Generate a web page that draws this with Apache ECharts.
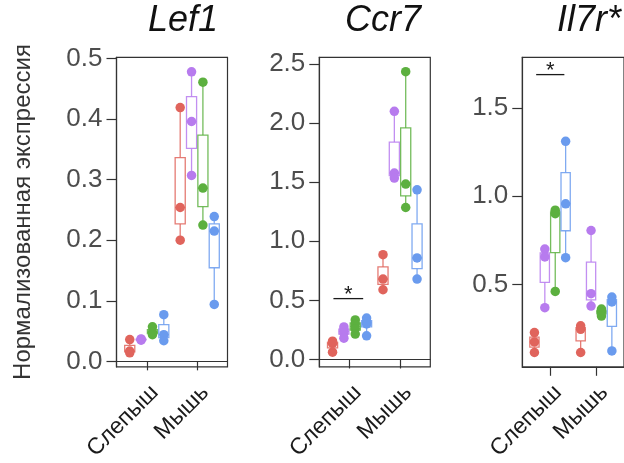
<!DOCTYPE html>
<html>
<head>
<meta charset="utf-8">
<script src="https://cdn.jsdelivr.net/npm/echarts@6/dist/echarts.min.js"></script>
<style>
html,body{margin:0;padding:0;background:#fff;}
#c{width:624px;height:463px;}
</style>
</head>
<body>
<div id="c"></div>
<script>
// ---------- data ----------
const geneNames = ['Lef1', 'Ccr7', 'Il7r*'];
const groupNames = ['Слепыш', 'Мышь'];
const yAxisTitle = 'Нормализованная экспрессия';

// values[group][subset] -> replicate values (subsets: red, purple, green, blue)
const lef1Values = [
  [[0.036, 0.017, 0.014], [0.037, 0.036, 0.035], [0.057, 0.048, 0.044], [0.077, 0.044, 0.034]],
  [[0.419, 0.254, 0.200], [0.478, 0.396, 0.307], [0.461, 0.286, 0.225], [0.239, 0.215, 0.094]]
];
const ccr7Values = [
  [[0.155, 0.135, 0.062], [0.275, 0.250, 0.225, 0.180], [0.335, 0.300, 0.260, 0.215], [0.350, 0.320, 0.300, 0.200]],
  [[0.887, 0.680, 0.590], [2.100, 1.577, 1.535], [2.435, 1.484, 1.286], [1.436, 0.859, 0.680]]
];
const il7rValues = [
  [[0.227, 0.174, 0.114], [0.700, 0.655, 0.368], [0.920, 0.900, 0.460], [1.310, 0.956, 0.651]],
  [[0.265, 0.245, 0.114], [0.805, 0.447, 0.377], [0.360, 0.345, 0.320], [0.428, 0.400, 0.123]]
];

const lef1Ticks = [0.0, 0.1, 0.2, 0.3, 0.4, 0.5];
const ccr7Ticks = [0.0, 0.5, 1.0, 1.5, 2.0, 2.5];
const il7rTicks = [0.5, 1.0, 1.5];

const lef1Range = [-0.009, 0.502];
const ccr7Range = [-0.062, 2.557];
const il7rRange = [0.033, 1.786];

// significance: [group index, bar value]
const ccr7Sig = [[0, 0.515]];
const il7rSig = [[0, 1.688]];
const lef1Sig = [];

// ---------- style / layout ----------
const subsetColors = ['#E0645C', '#B77BEE', '#5CB03F', '#6A9BEE'];
const panelLeft = [116.5, 319.3, 522.3];
const panelTop = 57.3, panelH = 310.4, panelW = 111;
const titleX = [183, 383, 589];
const DODGE = 0.225, BOX_W = 0.2;
const FONT = '"Liberation Sans", Arial, Helvetica, sans-serif';
const sigSpan = [[-0.30, 0.29], [-0.32, 0.27], [-0.30, 0.31]];

const panels = [
  {values: lef1Values, ticks: lef1Ticks, range: lef1Range, sig: lef1Sig},
  {values: ccr7Values, ticks: ccr7Ticks, range: ccr7Range, sig: ccr7Sig},
  {values: il7rValues, ticks: il7rTicks, range: il7rRange, sig: il7rSig}
];

function quantile(arr, p) {
  const s = arr.slice().sort((a, b) => a - b);
  const h = (s.length - 1) * p;
  const lo = Math.floor(h);
  const hi = Math.min(lo + 1, s.length - 1);
  return s[lo] + (h - lo) * (s[hi] - s[lo]);
}

function renderBox(params, api) {
  const x = api.value(0);
  const lo = api.value(1), q1 = api.value(2), md = api.value(3), q3 = api.value(4), hi = api.value(5);
  const col = subsetColors[api.value(6)];
  const hw = BOX_W / 2;
  const a = api.coord([x - hw, q3]);
  const b = api.coord([x + hw, q1]);
  const t = api.coord([x, hi]);
  const bt = api.coord([x, lo]);
  const m = api.coord([x, md]);
  const st = {stroke: col, lineWidth: 1.3, opacity: 0.85};
  return {type: 'group', children: [
    {type: 'line', shape: {x1: t[0], y1: t[1], x2: t[0], y2: a[1]}, style: st},
    {type: 'line', shape: {x1: bt[0], y1: b[1], x2: bt[0], y2: bt[1]}, style: st},
    {type: 'rect', shape: {x: a[0], y: a[1], width: b[0] - a[0], height: b[1] - a[1]},
      style: {stroke: col, lineWidth: 1.3, fill: '#fff', opacity: 0.85}},
    {type: 'line', shape: {x1: a[0], y1: m[1], x2: b[0], y2: m[1]}, style: st}
  ]};
}

function makeSigRender(pi) {
  return function (params, api) {
    const g = api.value(0), y = api.value(1);
    const p1 = api.coord([g + 1 + sigSpan[pi][0], y]);
    const p2 = api.coord([g + 1 + sigSpan[pi][1], y]);
    return {type: 'group', children: [
      {type: 'line', shape: {x1: p1[0], y1: p1[1], x2: p2[0], y2: p2[1]}, style: {stroke: '#1a1a1a', lineWidth: 1.3}},
      {type: 'text', x: (p1[0] + p2[0]) / 2, y: p1[1] - 4,
        style: {text: '*', fontSize: 22, fontFamily: FONT, fill: '#1a1a1a', align: 'center', verticalAlign: 'middle'}}
    ]};
  };
}

const grid = [], xAxis = [], yAxis = [], series = [], graphic = [];

panels.forEach((p, pi) => {
  grid.push({left: panelLeft[pi], top: panelTop, width: panelW, height: panelH,
    show: true, borderColor: '#333', borderWidth: 1.2, backgroundColor: 'transparent'});
  xAxis.push({
    type: 'value', gridIndex: pi, min: 0.4, max: 2.6,
    axisLine: {show: true, lineStyle: {color: '#333', width: 1.2}},
    axisTick: {show: true, customValues: [1, 2], length: 9, lineStyle: {color: '#333', width: 1.2}},
    axisLabel: {show: true, customValues: [1, 2], formatter: v => groupNames[Math.round(v) - 1],
      rotate: 45, align: 'right', verticalAlign: 'top', margin: 14,
      fontSize: 23, fontFamily: FONT, color: '#1a1a1a'},
    splitLine: {show: false}
  });
  yAxis.push({
    type: 'value', gridIndex: pi, min: p.range[0], max: p.range[1],
    axisLine: {show: true, lineStyle: {color: '#333', width: 1.2}},
    axisTick: {show: true, customValues: p.ticks, length: 10, lineStyle: {color: '#333', width: 1.2}},
    axisLabel: {show: true, customValues: p.ticks, formatter: v => v.toFixed(1), margin: 14,
      fontSize: 26, fontFamily: FONT, color: '#4d4d4d'},
    splitLine: {show: false}
  });

  const boxData = [];
  const pointData = [[], [], [], []];
  p.values.forEach((grp, g) => {
    grp.forEach((vals, k) => {
      const x = g + 1 + (k - 1.5) * DODGE;
      boxData.push([x, Math.min(...vals), quantile(vals, 0.25), quantile(vals, 0.5), quantile(vals, 0.75), Math.max(...vals), k]);
      vals.forEach(v => pointData[k].push([x, v]));
    });
  });
  series.push({type: 'custom', xAxisIndex: pi, yAxisIndex: pi, renderItem: renderBox,
    data: boxData, z: 2, silent: true, clip: false, encode: {x: 0, y: [1, 5]}});
  pointData.forEach((d, k) => {
    series.push({type: 'scatter', xAxisIndex: pi, yAxisIndex: pi, data: d, symbol: 'circle', symbolSize: 9.5,
      itemStyle: {color: subsetColors[k], opacity: 1}, z: 3, silent: true});
  });
  if (p.sig.length) {
    series.push({type: 'custom', xAxisIndex: pi, yAxisIndex: pi, renderItem: makeSigRender(pi),
      data: p.sig, z: 4, silent: true, clip: false});
  }
  graphic.push({type: 'text', x: titleX[pi], y: 21,
    style: {text: geneNames[pi], fontSize: 36, fontStyle: 'italic', fontFamily: FONT, fill: '#111',
      align: 'center', verticalAlign: 'middle'}});
});

graphic.push({type: 'text', x: 23, y: 212, rotation: Math.PI / 2,
  style: {text: yAxisTitle, fontSize: 24, fontFamily: FONT, fill: '#333', align: 'center', verticalAlign: 'middle'}});

const chart = echarts.init(document.getElementById('c'), null, {renderer: 'canvas'});
chart.setOption({animation: false, grid, xAxis, yAxis, series, graphic});
</script>
</body>
</html>
